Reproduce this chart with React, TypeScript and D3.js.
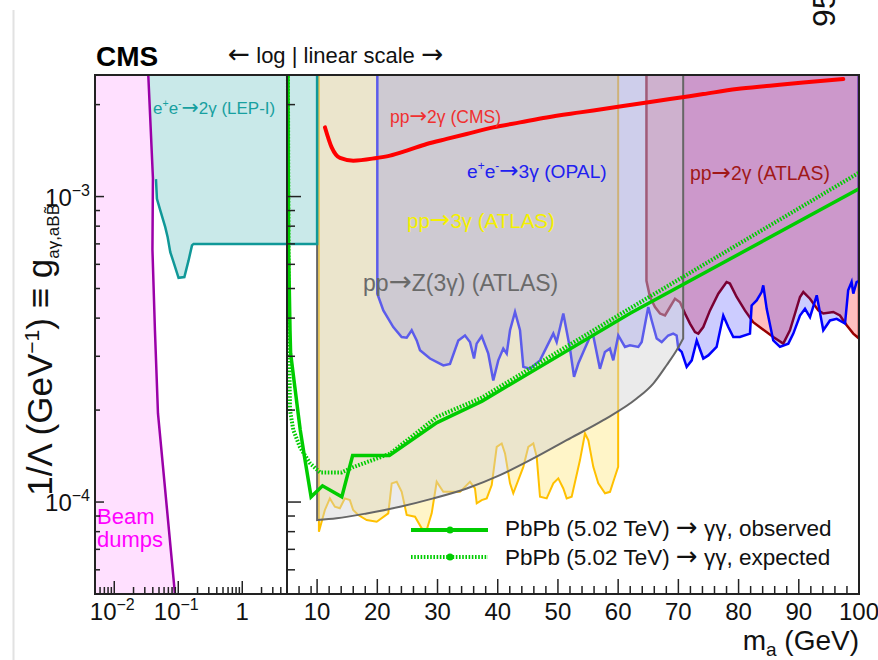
import React from "react";
import * as d3 from "d3";

type P = [number, number];

// ---------------- data (mass in GeV, coupling in units of 1e-4 GeV^-1) ----------------
const massLogDomain: [number, number] = [0.005, 5];
const massLinDomain: [number, number] = [5, 100];
const couplingDomain: [number, number] = [0.5, 25];

const beamDumpEdge: P[] = [
  [0.034, 25], [0.0402, 11.5], [0.0395, 6.7], [0.0432, 3.65], [0.0482, 1.95], [0.0888, 0.5],
];

const lepEdge: P[] = [
  [0.0448, 11.4], [0.0464, 9.83], [0.0525, 9.0], [0.0626, 7.94], [0.0683, 7.36], [0.075, 6.58],
  [0.0827, 6.18], [0.1011, 5.42], [0.1245, 5.45], [0.1449, 6.18], [0.1638, 6.92], [0.1736, 7.0],
  [10, 7.0], [10, 25],
];

const atlas3gEdge: P[] = [
  [10.3, 25], [10.3, 0.8], [11.29, 0.942], [12.12, 1.028], [12.95, 0.965], [13.78, 0.954],
  [14.61, 1.028], [15.44, 1.015], [15.99, 0.942], [16.84, 0.907], [18.24, 0.873], [19.9, 0.862],
  [21.82, 0.918], [22.39, 1.151], [23.22, 1.165], [24.05, 1.08], [24.88, 0.907], [26.26, 0.895],
  [27.37, 0.82], [28.2, 0.81], [29.03, 0.918], [29.86, 1.165], [30.96, 1.08], [33.73, 1.08],
  [35.39, 1.165], [36.22, 1.108], [36.51, 0.99], [37.34, 1.015], [38.17, 1.028], [39.0, 1.137],
  [39.83, 1.516], [40.66, 1.555], [41.21, 1.443], [42.04, 1.151], [42.58, 1.068], [44.25, 1.304],
  [45.08, 1.516], [45.91, 1.555], [46.47, 1.406], [47.02, 1.041], [48.13, 1.028], [49.23, 1.151],
  [50.06, 1.195], [50.89, 1.108], [51.45, 1.028], [52.28, 1.041], [53.66, 1.372], [54.49, 1.677],
  [55.04, 1.594], [55.87, 1.304], [56.7, 1.151], [57.82, 1.068], [58.65, 1.08], [59.19, 1.165],
  [60, 1.304], [60, 25],
];

const atlasZ3gEdge: P[] = [
  [10, 25], [10, 0.873], [13.25, 0.885], [18.24, 0.918], [23.77, 0.965], [29.3, 1.028],
  [34.85, 1.108], [40.37, 1.225], [45.9, 1.389], [51.44, 1.594], [57.53, 1.853], [63.07, 2.181],
  [65.83, 2.443], [68.05, 2.805], [69.71, 3.139], [70.8, 3.43], [70.8, 25],
];

const opalEdge: P[] = [
  [20, 25], [20, 4.81], [21.0, 4.24], [22.65, 3.74], [24.04, 3.47], [24.88, 3.45], [25.71, 3.65],
  [26.54, 3.38], [27.09, 3.14], [28.75, 2.95], [30.96, 2.8], [32.07, 2.83], [33.45, 3.38],
  [34.56, 3.51], [35.39, 3.34], [36.06, 2.95], [36.5, 3.3], [37.34, 3.49], [38.43, 3.06],
  [39.26, 2.5], [40.09, 2.91], [40.92, 3.18], [41.49, 3.06], [42.04, 3.65], [42.87, 4.19],
  [43.7, 3.65], [44.25, 2.77], [45.36, 2.73], [47.02, 2.91], [48.13, 3.22], [49.23, 3.56],
  [49.79, 3.34], [50.89, 4.14], [52.0, 3.18], [52.67, 2.57], [53.38, 2.84], [54.21, 3.1],
  [55.31, 3.47], [55.86, 3.51], [56.97, 2.73], [57.8, 3.1], [58.63, 3.18], [59.19, 2.91],
  [60.02, 3.51], [61.13, 3.22], [61.96, 3.26], [63.35, 3.22], [63.91, 3.34], [65.0, 4.35],
  [65.57, 3.93], [66.4, 3.43], [67.23, 3.34], [68.31, 3.51], [69.14, 3.56], [69.71, 3.51],
  [69.99, 3.18], [70.55, 3.1], [71.38, 2.77], [72.22, 2.91], [73.05, 3.38], [74.14, 2.95],
  [74.97, 3.02], [76.35, 3.22], [77.46, 4.08], [78.29, 3.74], [79.12, 3.47], [80.22, 3.47],
  [81.89, 3.56], [82.17, 4.4], [83.0, 4.57], [83.83, 4.87], [84.1, 5.12], [84.67, 4.29],
  [85.76, 3.38], [86.87, 3.22], [88.26, 3.3], [89.09, 3.56], [90.2, 4.08], [91.03, 4.29],
  [91.86, 4.03], [92.98, 4.75], [94.07, 3.65], [95.18, 3.93], [96.3, 3.98], [97.68, 3.84],
  [98.2, 4.93], [98.77, 5.25], [99.05, 4.81], [99.6, 5.25], [100, 5.3], [100, 25],
];

const atlas2gEdge: P[] = [
  [64.7, 25], [64.7, 5.3], [65.29, 4.69], [66.12, 4.35], [66.95, 4.14], [67.78, 4.08],
  [68.61, 4.35], [69.44, 4.63], [70.27, 4.51], [71.1, 4.14], [71.93, 3.84], [72.76, 3.6],
  [73.31, 3.56], [74.14, 3.74], [75.25, 4.24], [76.63, 4.81], [78.01, 5.25], [78.56, 5.19],
  [79.68, 4.69], [81.05, 4.24], [82.43, 3.88], [83.83, 3.7], [85.76, 3.47], [87.42, 3.3],
  [88.53, 3.65], [90.2, 4.69], [90.75, 4.87], [91.86, 4.63], [93.24, 4.24], [94.07, 4.14],
  [95.73, 4.19], [96.84, 4.08], [97.95, 3.79], [99.05, 3.56], [100, 3.43], [100, 25],
];

const cms2gLine: P[] = [
  [11.31, 16.84], [12.42, 14.49], [13.8, 13.38], [16.01, 13.11], [19.9, 13.38], [22.11, 13.61],
  [24.88, 14.13], [28.2, 14.86], [31.52, 15.44], [34.84, 16.03], [39.26, 16.84], [43.7, 17.49],
  [48.13, 18.16], [53.66, 18.86], [57.53, 19.35], [63.08, 20.09], [68.61, 20.85], [74.14, 21.65],
  [79.69, 22.48], [85.22, 23.05], [90.75, 23.63], [97.39, 24.25],
];

const observedMass = [5.15, 5.25, 5.5, 5.6, 6.3, 7.2, 8.0, 9.0, 10.9, 14.1, 15.9, 22.0, 29.9, 37.4, 62, 100];
const observedLimit = [26, 7.0, 3.65, 3.07, 2.38, 1.72, 1.37, 1.04, 1.13, 1.04, 1.42, 1.42, 1.82, 2.14, 4.15, 10.6];
const expectedMass = [5.15, 5.28, 5.38, 5.5, 6.05, 7.16, 8.82, 10.48, 14.08, 15.94, 22.1, 29.9, 37.4, 62.0, 100];
const expectedLimit = [26, 4.57, 2.91, 2.0, 1.72, 1.51, 1.34, 1.25, 1.25, 1.3, 1.44, 1.9, 2.2, 4.31, 11.97];

const legendLabels = ["PbPb (5.02 TeV)", "γγ, observed", "γγ, expected"];

const xLogMajor = [0.01, 0.1, 1];
const xLogLabels = [["10", "−2"], ["10", "−1"], ["1", ""]];
const xLinMajor = [10, 20, 30, 40, 50, 60, 70, 80, 90, 100];
const xLinMinor = [7, 9, ...d3.range(12, 100, 2).filter((v) => v % 10 !== 0)];
const yMajor = [1, 10];
const yLabels = [["10", "−4"], ["10", "−3"]];

// ---------------- layout ----------------
const L = 95, R = 859, T = 75, B = 594, S = 287;
const FONT = "'Liberation Sans', Arial, Helvetica, sans-serif";
const ARROWFONT = "'DejaVu Sans', sans-serif";

const xLog = d3.scaleLog().domain(massLogDomain).range([L, S]);
const xLin = d3.scaleLinear().domain(massLinDomain).range([S, R]);
const xOf = (m: number) => (m <= 5 ? xLog(m) : xLin(m));
const y = d3.scaleLog().domain(couplingDomain).range([B, T]);

const line = d3.line<P>().x((d) => xOf(d[0])).y((d) => y(d[1]));
const smooth = d3.line<P>().x((d) => xOf(d[0])).y((d) => y(d[1])).curve(d3.curveMonotoneX);

const zip = (a: number[], b: number[]): P[] => a.map((v, i) => [v, b[i]]);

function grayPath(closed: boolean) {
  const pts = atlasZ3gEdge;
  const first = pts[0], last = pts[pts.length - 1];
  const mid = smooth(pts.slice(1, -1)) as string;
  let d = `M${xOf(first[0])},${y(first[1])}` + mid.replace(/^M/, "L") + `L${xOf(last[0])},${y(last[1])}`;
  if (closed) d += "Z";
  return d;
}

const Arr = ({ c = "→", s = "1.2em" }: { c?: string; s?: string }) => (
  <tspan fontFamily={ARROWFONT} fontSize={s}>{c}</tspan>
);

const EE = ({ n, fs }: { n: string; fs: number }) => (
  <>
    e<tspan dy={-fs * 0.42} fontSize={fs * 0.62}>+</tspan>
    <tspan dy={fs * 0.42}>e</tspan>
    <tspan dy={-fs * 0.42} fontSize={fs * 0.62}>-</tspan>
    <tspan dy={fs * 0.42} fontFamily={ARROWFONT} fontSize={fs * 1.2}>→</tspan>
    <tspan>{n}γ</tspan>
  </>
);

export default function App() {
  const lepPoly: P[] = [[0.005, 25], ...lepEdge.slice().reverse(), [0.005, 11.4]];
  const beamPoly: P[] = [[0.005, 25], ...beamDumpEdge, [0.005, 0.5]];

  const yTicksAll = y.ticks(20).filter((v) => v > 0.5 && v < 25);
  const isMajor = (v: number) => Math.abs(Math.log10(v) - Math.round(Math.log10(v))) < 1e-6;
  const xLogTicksAll = xLog.ticks(20).filter((v) => v > 0.005 && v < 5);

  return (
    <svg
      width={878}
      height={660}
      style={{ position: "absolute", left: 0, top: 0, background: "#fff" }}
      fontFamily={FONT}
    >
      <defs>
        <clipPath id="plot">
          <rect x={L} y={T} width={R - L} height={B - T} />
        </clipPath>
      </defs>
      <rect x={0} y={0} width={878} height={660} fill="#fff" />
      <line x1={13.5} y1={10} x2={13.5} y2={660} stroke="#e2e2e2" strokeWidth={2} />

      <g clipPath="url(#plot)">
        {/* ATLAS 3 gamma */}
        <path d={(line(atlas3gEdge) as string) + "Z"} fill="#fff5c8" />
        <path d={line(atlas3gEdge) as string} fill="none" stroke="#ffc000" strokeWidth={2} />
        {/* ATLAS 2 gamma */}
        <path d={(line(atlas2gEdge) as string) + "Z"} fill="rgba(255,0,0,0.25)" />
        <path d={line(atlas2gEdge) as string} fill="none" stroke="#990000" strokeWidth={2.5} />
        {/* OPAL */}
        <path d={(line(opalEdge) as string) + "Z"} fill="rgba(0,0,255,0.2)" />
        <path d={line(opalEdge) as string} fill="none" stroke="#0000ff" strokeWidth={2.5} />
        {/* ATLAS Z(3 gamma) */}
        <path d={grayPath(true)} fill="rgba(210,210,210,0.44)" />
        <path d={grayPath(false)} fill="none" stroke="#666" strokeWidth={2} />
        {/* LEP-I */}
        <path d={(line(lepPoly) as string) + "Z"} fill="#c9e9e9" />
        <path d={line(lepEdge) as string} fill="none" stroke="#109898" strokeWidth={2.5} />
        {/* Beam dumps */}
        <path d={(line(beamPoly) as string) + "Z"} fill="#ffe0ff" />
        <path d={line(beamDumpEdge) as string} fill="none" stroke="#9a00a8" strokeWidth={2.5} />
        {/* CMS pp -> 2 gamma */}
        <path d={smooth(cms2gLine) as string} fill="none" stroke="#ff0000" strokeWidth={4} strokeLinecap="round" />
        {/* PbPb limits */}
        <path d={line(zip(expectedMass, expectedLimit)) as string} fill="none" stroke="#00cc00" strokeWidth={4} strokeDasharray="1.6 1.6" />
        <path d={line(zip(observedMass, observedLimit)) as string} fill="none" stroke="#00cc00" strokeWidth={3.5} />
      </g>

      {/* region labels */}
      <text x={153} y={114} fontSize={17} fill="#17a0a0"><EE n="2" fs={17} /> (LEP-I)</text>
      <text x={390} y={123} fontSize={17.5} fill="#f03030">pp<Arr />2γ (CMS)</text>
      <text x={467} y={178} fontSize={19.2} fill="#2020f0"><EE n="3" fs={19.2} /> (OPAL)</text>
      <text x={407} y={228} fontSize={20.5} fill="#f4f000">pp<Arr />3γ (ATLAS)</text>
      <text x={363} y={291} fontSize={23} fill="#6a6a6a">pp<Arr />Z(3γ) (ATLAS)</text>
      <text x={690} y={180} fontSize={19.4} fill="#a01818">pp<Arr />2γ (ATLAS)</text>
      <text x={97} y={524} fontSize={22} fill="#ff00ff">Beam</text>
      <text x={97} y={547} fontSize={22} fill="#ff00ff">dumps</text>

      {/* legend */}
      <line x1={411} x2={488} y1={530} y2={530} stroke="#00cc00" strokeWidth={4} />
      <circle cx={450} cy={530} r={3.5} fill="#00cc00" />
      <line x1={411} x2={488} y1={557} y2={557} stroke="#00cc00" strokeWidth={4} strokeDasharray="1.6 1.6" />
      <circle cx={450} cy={557} r={3.5} fill="#00cc00" />
      <text x={505} y={536} fontSize={22.5} fill="#111">{legendLabels[0]} <Arr s="1.15em" /> {legendLabels[1]}</text>
      <text x={505} y={565} fontSize={22.5} fill="#111">{legendLabels[0]} <Arr s="1.15em" /> {legendLabels[2]}</text>

      {/* frame */}
      <rect x={L} y={T} width={R - L} height={B - T} fill="none" stroke="#222" strokeWidth={2} />
      <line x1={S} x2={S} y1={T} y2={B} stroke="#222" strokeWidth={2} />

      {/* y ticks */}
      {yTicksAll.map((v, i) => {
        const maj = isMajor(v);
        return (
          <g key={"yt" + i}>
            <line x1={L} x2={L + (maj ? 9 : 5)} y1={y(v)} y2={y(v)} stroke="#222" strokeWidth={1.5} />
            <line x1={S} x2={S + (maj ? 14 : 8)} y1={y(v)} y2={y(v)} stroke="#222" strokeWidth={1.5} />
          </g>
        );
      })}
      {/* x ticks, log part */}
      {xLogTicksAll.map((v, i) => {
        const maj = isMajor(v);
        return <line key={"xl" + i} x1={xLog(v)} x2={xLog(v)} y1={B} y2={B - (maj ? 13 : 7)} stroke="#222" strokeWidth={1.5} />;
      })}
      {xLinMajor.map((v) => (
        <line key={"xM" + v} x1={xLin(v)} x2={xLin(v)} y1={B} y2={B - 15} stroke="#222" strokeWidth={1.5} />
      ))}
      {xLinMinor.map((v) => (
        <line key={"xm" + v} x1={xLin(v)} x2={xLin(v)} y1={B} y2={B - 8} stroke="#222" strokeWidth={1.5} />
      ))}

      {/* tick labels */}
      {xLogMajor.map((v, i) => (
        <text key={"xlL" + i} x={xLog(v) + (xLogLabels[i][1] ? -2 : 0)} y={620} fontSize={24} textAnchor="middle" fill="#111">
          {xLogLabels[i][0]}
          {xLogLabels[i][1] && <tspan dy={-10} fontSize={16}>{xLogLabels[i][1]}</tspan>}
        </text>
      ))}
      {xLinMajor.map((v) => (
        <text key={"xLL" + v} x={xLin(v)} y={620} fontSize={24} textAnchor="middle" fill="#111">{v}</text>
      ))}
      {yMajor.map((v, i) => (
        <text key={"yL" + i} x={90} y={y(v) + 9} fontSize={24} textAnchor="end" fill="#111">
          {yLabels[i][0]}
          <tspan dy={-10} fontSize={16}>{yLabels[i][1]}</tspan>
        </text>
      ))}

      {/* titles */}
      <text x={859} y={650} fontSize={28} textAnchor="end" fill="#111">
        m<tspan dy={6} fontSize={19}>a</tspan><tspan dy={-6}> (GeV)</tspan>
      </text>
      <text transform="translate(52,204) rotate(-90)" fontSize={35} textAnchor="end" fill="#111">
        1/Λ (GeV<tspan dy={-13} fontSize={21}>−1</tspan>
        <tspan dy={13}>) ≡ g</tspan>
        <tspan dy={7} fontSize={17}>aγ,aBB̃</tspan>
      </text>
      <text x={96} y={66} fontSize={28} fontWeight="bold" fill="#000">CMS</text>
      <text x={228} y={63} fontSize={22} fill="#111"><Arr c="←" /> log | linear scale <Arr /></text>
      <text transform="translate(835,27) rotate(-90)" fontSize={32} fill="#111">95% CL</text>
    </svg>
  );
}
